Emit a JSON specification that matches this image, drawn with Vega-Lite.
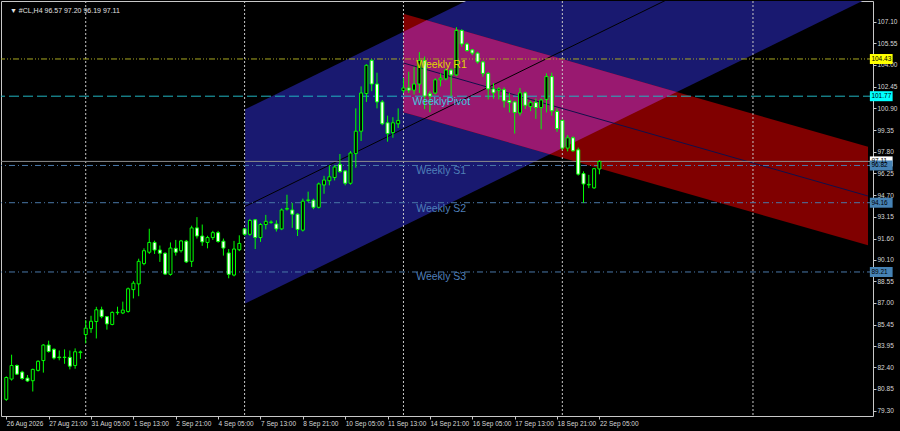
{
  "$schema": "https://vega.github.io/schema/vega-lite/v6.json",
  "width": 872,
  "height": 415,
  "autosize": {"type": "none"},
  "padding": {"left": 1, "top": 1, "right": 27, "bottom": 15},
  "background": "#000000",
  "config": {
    "view": {"stroke": "#c8c8c8", "strokeWidth": 1, "fill": "#000000"},
    "font": "Liberation Sans"
  },
  "resolve": {"axis": {"x": "independent", "y": "independent"}},
  "datasets": {
    "bars": [
      {"i": 0, "o": 80.11, "h": 81.75, "l": 80.0, "c": 81.67},
      {"i": 1, "o": 81.56, "h": 83.3, "l": 81.45, "c": 82.53},
      {"i": 2, "o": 82.53, "h": 82.6, "l": 81.85, "c": 81.91},
      {"i": 3, "o": 82.06, "h": 82.15, "l": 81.5, "c": 81.6},
      {"i": 4, "o": 81.63, "h": 81.85, "l": 81.35, "c": 81.42},
      {"i": 5, "o": 81.44, "h": 82.3, "l": 80.67, "c": 82.25},
      {"i": 6, "o": 82.18, "h": 82.9, "l": 82.1, "c": 82.83},
      {"i": 7, "o": 82.88, "h": 84.05, "l": 82.02, "c": 83.99},
      {"i": 8, "o": 83.99, "h": 84.3, "l": 83.45, "c": 83.53},
      {"i": 9, "o": 83.69, "h": 83.75, "l": 82.95, "c": 83.06},
      {"i": 10, "o": 83.13, "h": 83.6, "l": 82.9, "c": 83.09},
      {"i": 11, "o": 83.1, "h": 83.68, "l": 82.65, "c": 83.12},
      {"i": 12, "o": 83.11, "h": 83.6, "l": 82.25, "c": 82.48},
      {"i": 13, "o": 82.53, "h": 83.75, "l": 82.3, "c": 83.51},
      {"i": 14, "o": 83.45, "h": 83.6, "l": 83.0, "c": 83.5},
      {"i": 15, "o": 84.74, "h": 85.78, "l": 84.11, "c": 85.2},
      {"i": 16, "o": 85.16, "h": 86.08, "l": 84.86, "c": 85.69},
      {"i": 17, "o": 85.67, "h": 86.72, "l": 84.46, "c": 86.51},
      {"i": 18, "o": 86.51, "h": 86.73, "l": 85.9, "c": 86.02},
      {"i": 19, "o": 86.02, "h": 86.05, "l": 85.09, "c": 85.5},
      {"i": 20, "o": 85.46, "h": 86.4, "l": 85.4, "c": 86.32},
      {"i": 21, "o": 86.3, "h": 86.73, "l": 86.15, "c": 86.33},
      {"i": 22, "o": 86.28, "h": 87.09, "l": 86.2, "c": 86.49},
      {"i": 23, "o": 86.39, "h": 88.1, "l": 86.3, "c": 88.01},
      {"i": 24, "o": 87.95, "h": 88.57, "l": 87.32, "c": 88.41},
      {"i": 25, "o": 88.36, "h": 90.16, "l": 87.48, "c": 89.97},
      {"i": 26, "o": 89.81, "h": 90.9, "l": 89.69, "c": 90.73},
      {"i": 27, "o": 90.62, "h": 92.3, "l": 90.5, "c": 91.32},
      {"i": 28, "o": 91.32, "h": 91.45, "l": 90.5, "c": 90.78},
      {"i": 29, "o": 90.78, "h": 91.1, "l": 89.93, "c": 90.55},
      {"i": 30, "o": 90.55, "h": 90.6, "l": 89.0, "c": 89.06},
      {"i": 31, "o": 89.04, "h": 91.32, "l": 88.95, "c": 90.92},
      {"i": 32, "o": 90.9, "h": 91.5, "l": 90.38, "c": 90.62},
      {"i": 33, "o": 90.73, "h": 91.5, "l": 90.6, "c": 91.43},
      {"i": 34, "o": 91.41, "h": 91.5, "l": 89.85, "c": 89.93},
      {"i": 35, "o": 89.97, "h": 92.52, "l": 89.57, "c": 92.36},
      {"i": 36, "o": 92.36, "h": 93.13, "l": 91.6, "c": 91.78},
      {"i": 37, "o": 91.78, "h": 92.6, "l": 91.08, "c": 91.36},
      {"i": 38, "o": 91.32, "h": 91.8, "l": 90.9, "c": 91.67},
      {"i": 39, "o": 91.67, "h": 92.15, "l": 91.5, "c": 92.02},
      {"i": 40, "o": 92.02, "h": 92.15, "l": 91.3, "c": 91.39},
      {"i": 41, "o": 91.41, "h": 91.6, "l": 90.38, "c": 90.92},
      {"i": 42, "o": 90.57, "h": 90.85, "l": 88.76, "c": 89.04},
      {"i": 43, "o": 88.99, "h": 91.43, "l": 88.9, "c": 90.85},
      {"i": 44, "o": 90.8, "h": 91.83, "l": 90.7, "c": 91.25},
      {"i": 45, "o": 92.29, "h": 92.35, "l": 91.8, "c": 91.9},
      {"i": 46, "o": 91.9, "h": 93.0, "l": 91.8, "c": 92.89},
      {"i": 47, "o": 92.94, "h": 93.0, "l": 90.85, "c": 91.67},
      {"i": 48, "o": 91.67, "h": 92.7, "l": 91.36, "c": 92.6},
      {"i": 49, "o": 92.6, "h": 93.29, "l": 92.25, "c": 92.83},
      {"i": 50, "o": 92.75, "h": 92.9, "l": 92.65, "c": 92.78},
      {"i": 51, "o": 92.64, "h": 92.9, "l": 92.1, "c": 92.29},
      {"i": 52, "o": 92.29, "h": 93.75, "l": 92.2, "c": 93.64},
      {"i": 53, "o": 93.7, "h": 94.73, "l": 93.6, "c": 93.75},
      {"i": 54, "o": 93.64, "h": 94.15, "l": 92.36, "c": 93.34},
      {"i": 55, "o": 93.34, "h": 93.4, "l": 91.78, "c": 92.25},
      {"i": 56, "o": 92.2, "h": 94.45, "l": 92.1, "c": 94.27},
      {"i": 57, "o": 94.32, "h": 94.95, "l": 94.2, "c": 94.36},
      {"i": 58, "o": 94.34, "h": 94.45, "l": 93.7, "c": 93.83},
      {"i": 59, "o": 93.83, "h": 95.6, "l": 93.75, "c": 95.5},
      {"i": 60, "o": 95.43, "h": 96.08, "l": 94.8, "c": 95.78},
      {"i": 61, "o": 95.73, "h": 96.85, "l": 95.4, "c": 96.01},
      {"i": 62, "o": 95.96, "h": 96.85, "l": 95.75, "c": 96.71},
      {"i": 63, "o": 96.9, "h": 97.64, "l": 96.3, "c": 96.38},
      {"i": 64, "o": 96.43, "h": 96.5, "l": 95.4, "c": 95.55},
      {"i": 65, "o": 95.55, "h": 97.85, "l": 95.45, "c": 97.71},
      {"i": 66, "o": 97.67, "h": 100.9, "l": 96.66, "c": 99.27},
      {"i": 67, "o": 99.27, "h": 102.47, "l": 98.57, "c": 102.0},
      {"i": 68, "o": 101.96, "h": 104.05, "l": 101.36, "c": 103.98},
      {"i": 69, "o": 104.33, "h": 104.43, "l": 102.13, "c": 102.64},
      {"i": 70, "o": 102.64, "h": 103.45, "l": 100.9, "c": 101.36},
      {"i": 71, "o": 101.36, "h": 101.5, "l": 99.7, "c": 99.8},
      {"i": 72, "o": 99.87, "h": 100.38, "l": 98.52, "c": 99.1},
      {"i": 73, "o": 99.17, "h": 100.27, "l": 98.8, "c": 99.87},
      {"i": 74, "o": 99.8, "h": 100.9, "l": 99.5, "c": 100.04},
      {"i": 75, "o": 102.17, "h": 103.06, "l": 102.0, "c": 102.36},
      {"i": 76, "o": 102.36, "h": 103.52, "l": 102.0, "c": 102.2},
      {"i": 77, "o": 102.2, "h": 103.87, "l": 101.89, "c": 102.64},
      {"i": 78, "o": 102.64, "h": 104.92, "l": 102.0, "c": 104.33},
      {"i": 79, "o": 104.33, "h": 104.61, "l": 100.85, "c": 101.78},
      {"i": 80, "o": 101.94, "h": 102.13, "l": 100.62, "c": 101.78},
      {"i": 81, "o": 102.0, "h": 103.05, "l": 101.9, "c": 102.94},
      {"i": 82, "o": 102.94, "h": 103.4, "l": 102.47, "c": 103.06},
      {"i": 83, "o": 103.01, "h": 103.75, "l": 102.9, "c": 103.64},
      {"i": 84, "o": 103.64, "h": 103.75, "l": 101.78, "c": 103.29},
      {"i": 85, "o": 103.29, "h": 106.7, "l": 103.2, "c": 106.47},
      {"i": 86, "o": 106.47, "h": 106.55, "l": 105.3, "c": 105.5},
      {"i": 87, "o": 105.5, "h": 105.6, "l": 104.95, "c": 105.03},
      {"i": 88, "o": 105.08, "h": 105.15, "l": 104.7, "c": 104.85},
      {"i": 89, "o": 104.85, "h": 104.95, "l": 104.1, "c": 104.22},
      {"i": 90, "o": 104.22, "h": 104.3, "l": 103.17, "c": 103.4},
      {"i": 91, "o": 103.4, "h": 103.5, "l": 101.54, "c": 102.29},
      {"i": 92, "o": 102.29, "h": 102.71, "l": 101.59, "c": 102.01},
      {"i": 93, "o": 102.17, "h": 102.4, "l": 101.54, "c": 102.29},
      {"i": 94, "o": 102.24, "h": 102.4, "l": 100.96, "c": 101.43},
      {"i": 95, "o": 101.47, "h": 102.01, "l": 100.61, "c": 101.31},
      {"i": 96, "o": 101.36, "h": 101.45, "l": 99.1, "c": 100.61},
      {"i": 97, "o": 100.57, "h": 102.36, "l": 100.38, "c": 102.01},
      {"i": 98, "o": 102.01, "h": 102.1, "l": 100.85, "c": 101.12},
      {"i": 99, "o": 101.03, "h": 101.45, "l": 100.7, "c": 101.31},
      {"i": 100, "o": 101.31, "h": 101.6, "l": 100.15, "c": 100.96},
      {"i": 101, "o": 100.96, "h": 101.6, "l": 99.41, "c": 101.5},
      {"i": 102, "o": 101.54, "h": 103.4, "l": 100.61, "c": 103.17},
      {"i": 103, "o": 103.17, "h": 103.45, "l": 100.38, "c": 100.73},
      {"i": 104, "o": 100.68, "h": 100.9, "l": 99.22, "c": 99.45},
      {"i": 105, "o": 100.04, "h": 100.1, "l": 97.95, "c": 98.06},
      {"i": 106, "o": 98.06, "h": 98.99, "l": 97.83, "c": 98.8},
      {"i": 107, "o": 98.8, "h": 98.9, "l": 97.8, "c": 97.87},
      {"i": 108, "o": 97.94, "h": 98.1, "l": 96.1, "c": 96.2},
      {"i": 109, "o": 96.24, "h": 96.4, "l": 94.15, "c": 95.5},
      {"i": 110, "o": 95.43, "h": 96.15, "l": 95.2, "c": 95.47},
      {"i": 111, "o": 95.22, "h": 96.65, "l": 95.15, "c": 96.59},
      {"i": 112, "o": 96.57, "h": 97.2, "l": 96.19, "c": 97.11}
    ],
    "levels": [
      {"name": "R1", "price": 104.43},
      {"name": "Pivot", "price": 101.77},
      {"name": "Bid", "price": 97.11},
      {"name": "S1", "price": 96.82},
      {"name": "S2", "price": 94.16},
      {"name": "S3", "price": 89.21}
    ],
    "labels": [
      {"name": "R1", "text": "Weekly R1", "i": 77.4, "price": 104.03},
      {"name": "Pivot", "text": "WeeklyPivot", "i": 76.7, "price": 101.35},
      {"name": "S1", "text": "Weekly S1", "i": 77.4, "price": 96.43},
      {"name": "S2", "text": "Weekly S2", "i": 77.4, "price": 93.71},
      {"name": "S3", "text": "Weekly S3", "i": 77.4, "price": 88.83}
    ],
    "header": [
      {"text": "▼ #CL,H4  96.57 97.20 96.19 97.11", "i": 0.69, "price": 107.87}
    ],
    "blue": [
      {"i": 45.1, "top": 100.83, "bot": 86.95},
      {"i": 162.72, "top": 122.65, "bot": 108.77}
    ],
    "red": [
      {"i": 75, "top": 107.66, "bot": 100.62},
      {"i": 162.72, "top": 98.16, "bot": 91.12}
    ],
    "overlap": [
      {"i": 75, "top": 106.38, "bot": 100.62},
      {"i": 79.36, "top": 107.19, "bot": 100.15},
      {"i": 102.64, "top": 104.67, "bot": 97.63},
      {"i": 126.6, "top": 102.07, "bot": 102.07}
    ],
    "blueMid": [
      {"i": 45.1, "p": 93.89},
      {"i": 162.72, "p": 115.71}
    ],
    "redMid": [
      {"i": 75, "p": 104.14},
      {"i": 162.72, "p": 94.64}
    ],
    "grid": [{"i": 15}, {"i": 45}, {"i": 75}, {"i": 105}, {"i": 141}]
  },
  "layer": [
    {
      "data": {"name": "blue"},
      "mark": {"type": "area", "color": "#191970", "clip": true},
      "encoding": {
        "x": {
          "field": "i",
          "type": "quantitative",
          "scale": {"domain": [-0.056, 162.72], "nice": false, "zero": false},
          "axis": {
            "values": [0, 8, 16, 24, 32, 40, 48, 56, 64, 72, 80, 88, 96, 104, 112],
            "labelExpr": "['26 Aug 2026','27 Aug 21:00','31 Aug 05:00','1 Sep 13:00','2 Sep 21:00','4 Sep 05:00','7 Sep 13:00','8 Sep 21:00','10 Sep 05:00','11 Sep 13:00','14 Sep 21:00','16 Sep 05:00','17 Sep 13:00','18 Sep 21:00','22 Sep 05:00'][round(datum.value / 8)]",
            "labelAlign": "left",
            "labelFlush": false,
            "labelOverlap": false,
            "labelBound": false,
            "labelPadding": 1,
            "labelFontSize": 6.5,
            "labelColor": "#d8d8d8",
            "tickColor": "#c8c8c8",
            "tickSize": 3,
            "domain": false,
            "grid": false,
            "title": null
          }
        },
        "y": {
          "field": "top",
          "type": "quantitative",
          "scale": {"domain": [79.277, 108.215], "nice": false, "zero": false},
          "axis": {
            "orient": "right",
            "values": [79.3, 80.85, 82.4, 83.95, 85.45, 87.0, 88.55, 90.1, 91.6, 93.15, 94.7, 96.25, 97.8, 99.35, 100.9, 102.45, 104.0, 105.55, 107.1],
            "format": ".2f",
            "labelFontSize": 6.5,
            "labelColor": "#d8d8d8",
            "labelPadding": 1,
            "labelFlush": false,
            "labelOverlap": false,
            "labelBound": false,
            "tickColor": "#c8c8c8",
            "tickSize": 3,
            "domain": false,
            "grid": false,
            "title": null
          }
        },
        "y2": {"field": "bot"}
      }
    },
    {
      "data": {"name": "red"},
      "mark": {"type": "area", "color": "#800000", "clip": true},
      "encoding": {
        "x": {"field": "i", "type": "quantitative", "axis": null},
        "y": {"field": "top", "type": "quantitative", "axis": null},
        "y2": {"field": "bot"}
      }
    },
    {
      "data": {"name": "overlap"},
      "mark": {"type": "area", "color": "#991970", "clip": true},
      "encoding": {
        "x": {"field": "i", "type": "quantitative", "axis": null},
        "y": {"field": "top", "type": "quantitative", "axis": null},
        "y2": {"field": "bot"}
      }
    },
    {
      "data": {"name": "grid"},
      "mark": {"type": "rule", "color": "#c8c8c8", "strokeDash": [2, 2], "strokeWidth": 1},
      "encoding": {
        "x": {"field": "i", "type": "quantitative", "axis": null}
      }
    },
    {
      "data": {"name": "blueMid"},
      "mark": {"type": "line", "color": "#000000", "strokeWidth": 1, "clip": true},
      "encoding": {
        "x": {"field": "i", "type": "quantitative", "axis": null},
        "y": {"field": "p", "type": "quantitative", "axis": null}
      }
    },
    {
      "data": {"name": "redMid"},
      "mark": {"type": "line", "color": "#10104a", "strokeWidth": 1, "clip": true},
      "encoding": {
        "x": {"field": "i", "type": "quantitative", "axis": null},
        "y": {"field": "p", "type": "quantitative", "axis": null}
      }
    },
    {
      "data": {"name": "levels"},
      "mark": {"type": "rule", "strokeWidth": 1},
      "encoding": {
        "y": {"field": "price", "type": "quantitative", "axis": null},
        "stroke": {
          "field": "name",
          "type": "nominal",
          "scale": {
            "domain": ["R1", "Pivot", "Bid", "S1", "S2", "S3"],
            "range": ["#a8a820", "#20b4c0", "#8c8c8c", "#4a78a8", "#4a78a8", "#4a78a8"]
          },
          "legend": null
        },
        "strokeDash": {
          "field": "name",
          "type": "nominal",
          "scale": {
            "domain": ["R1", "Pivot", "Bid", "S1", "S2", "S3"],
            "range": [[6, 2, 1, 2, 1, 2], [10, 4], [1, 0], [6, 3, 1, 3], [6, 3, 1, 3], [6, 3, 1, 3]]
          },
          "legend": null
        }
      }
    },
    {
      "data": {"name": "bars"},
      "mark": {"type": "rule", "color": "#00ff00", "strokeWidth": 1, "clip": true},
      "encoding": {
        "x": {"field": "i", "type": "quantitative", "axis": null},
        "y": {"field": "l", "type": "quantitative", "axis": null},
        "y2": {"field": "h"}
      }
    },
    {
      "data": {"name": "bars"},
      "mark": {"type": "bar", "size": 3, "stroke": "#00ff00", "strokeWidth": 1, "clip": true},
      "encoding": {
        "x": {"field": "i", "type": "quantitative", "axis": null},
        "y": {"field": "o", "type": "quantitative", "axis": null},
        "y2": {"field": "c"},
        "fill": {
          "condition": {"test": "datum.c >= datum.o", "value": "#000000"},
          "value": "#ffffff"
        }
      }
    },
    {
      "data": {"name": "labels"},
      "mark": {"type": "text", "align": "left", "baseline": "middle", "fontSize": 10.5},
      "encoding": {
        "x": {"field": "i", "type": "quantitative", "axis": null},
        "y": {"field": "price", "type": "quantitative", "axis": null},
        "text": {"field": "text"},
        "color": {
          "field": "name",
          "type": "nominal",
          "scale": {
            "domain": ["R1", "Pivot", "S1", "S2", "S3"],
            "range": ["#e0d800", "#40c8e0", "#4f7fb8", "#4f7fb8", "#4f7fb8"]
          },
          "legend": null
        }
      }
    },
    {
      "data": {"name": "header"},
      "mark": {"type": "text", "align": "left", "baseline": "middle", "fontSize": 7, "color": "#e0e0e0"},
      "encoding": {
        "x": {"field": "i", "type": "quantitative", "axis": null},
        "y": {"field": "price", "type": "quantitative", "axis": null},
        "text": {"field": "text"}
      }
    },
    {
      "data": {"name": "levels"},
      "mark": {"type": "bar", "orient": "horizontal", "size": 10},
      "encoding": {
        "x": {"datum": 163.07, "type": "quantitative", "axis": null},
        "x2": {"datum": 167.37},
        "y": {"field": "price", "type": "quantitative", "axis": null},
        "fill": {
          "field": "name",
          "type": "nominal",
          "scale": {
            "domain": ["R1", "Pivot", "Bid", "S1", "S2", "S3"],
            "range": ["#ffff00", "#00ffff", "#ffffff", "#4682b4", "#4682b4", "#4682b4"]
          },
          "legend": null
        }
      }
    },
    {
      "data": {"name": "levels"},
      "mark": {"type": "text", "align": "left", "baseline": "middle", "fontSize": 6.5, "color": "#000000"},
      "encoding": {
        "x": {"datum": 163.36, "type": "quantitative", "axis": null},
        "y": {"field": "price", "type": "quantitative", "axis": null},
        "text": {"field": "price", "format": ".2f"}
      }
    }
  ]
}
